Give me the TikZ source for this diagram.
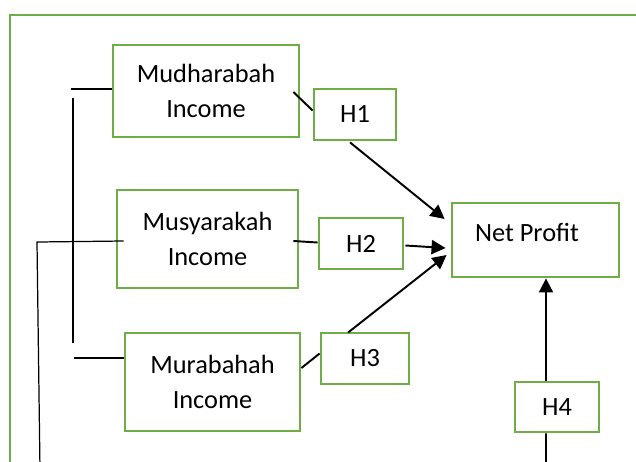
\documentclass[tikz,border=0pt]{standalone}
\usepackage{fontspec}
\setmainfont{Carlito}
\usetikzlibrary{arrows.meta}
\definecolor{boxgreen}{RGB}{112,173,71}
\tikzset{
    %Define standard arrow tip
    >={Triangle[length=8pt,width=8pt]},
    %Define style for boxes
    incomerect/.style={
           rectangle,
           draw=boxgreen, line width=1.6pt,
           minimum width=3.6cm,
           minimum height=1.96cm,
           font=\fontsize{15}{20.4}\selectfont,
           align=center},
    hyprect/.style={
           rectangle,
           draw=boxgreen, line width=1.6pt,
           minimum width=1.68cm,
           minimum height=1.02cm,
           font=\fontsize{15}{18}\selectfont,
           text centered},
    targetrect/.style={
           rectangle,
           draw=boxgreen, line width=1.6pt,
           minimum width=3.34cm,
           minimum height=1.48cm,
           font=\fontsize{15}{18}\selectfont},
    % Define arrow style
    pil/.style={
           ->,
           line width=1.1pt},
    link/.style={
           line width=1.1pt},
    lin/.style={
           line width=0.7pt}
}
\begin{document}
\begin{tikzpicture}[x=0.02cm,y=-0.02cm]
\useasboundingbox (0,0) rectangle (636,461);
\clip (0,0) rectangle (636,461);
% outer frame
\draw[boxgreen, line width=1.6pt] (10,15) rectangle (690,530);
% income variables
\node[incomerect, minimum width=3.72cm, minimum height=1.84cm](mud) at (206,91){Mudharabah\\Income};
\node[incomerect, minimum width=3.62cm](mus) at (207.5,239){Musyarakah\\Income};
\node[incomerect, minimum width=3.5cm](mur) at (212.5,382){Murabahah\\Income};
% hypotheses
\node[hyprect, minimum width=1.64cm](h1) at (355,114.5){H1};
\node[hyprect](h2) at (361,243.5){H2};
\node[hyprect, minimum width=1.76cm](h3) at (365,358.5){H3};
\node[hyprect, minimum height=1.0cm](h4) at (557,407){H4};
% dependent variable
\node[targetrect, label={[xshift=-0.17cm,yshift=0.16cm,font=\fontsize{15}{18}\selectfont]center:Net Profit}](np) at (535.5,240){};
% free ends
\coordinate (mudend) at (71,89);
\coordinate (bartop) at (73,98);
\coordinate (barbot) at (73,343);
\coordinate (murend) at (74,358);
\coordinate (muscorner) at (37,242);
\coordinate (musend) at (40,470);
\coordinate (h4top) at ([xshift=-0.22cm]h4.north);
\coordinate (h4bot) at ([xshift=-0.22cm]h4.south);
\coordinate (h4end) at (546,470);
% left lines
\draw[lin] (mudend) -- (mudend -| mud.west);
\draw[lin] (bartop) -- (barbot);
\draw[lin] (murend) -- (murend -| mur.west);
\draw[lin] ([shift={(8,2)}]mus.west) -- (muscorner) -- (musend);
% variables to hypotheses
\draw[link] ([shift={(-7,1)}]mud.east) -- ([shift={(0,-4)}]h1.west);
\draw[link] ([shift={(-6,2)}]mus.east) -- ([shift={(0,-1)}]h2.west);
\draw[link] ([shift={(0,-14)}]mur.east) -- ([shift={(0,-5)}]h3.west);
% hypotheses to net profit
\draw[pil] ([shift={(-5,1)}]h1.south) -- ([shift={(-6,-21)}]np.west);
\draw[pil] ([shift={(1,2)}]h2.east) -- ([shift={(-5,8)}]np.west);
\draw[pil] ([shift={(-17,1)}]h3.north) -- ([shift={(-4,15)}]np.west);
\draw[pil] (h4top) -- (h4top |- np.south);
\draw[link] (h4bot) -- (h4end);
\end{tikzpicture}
\end{document}
